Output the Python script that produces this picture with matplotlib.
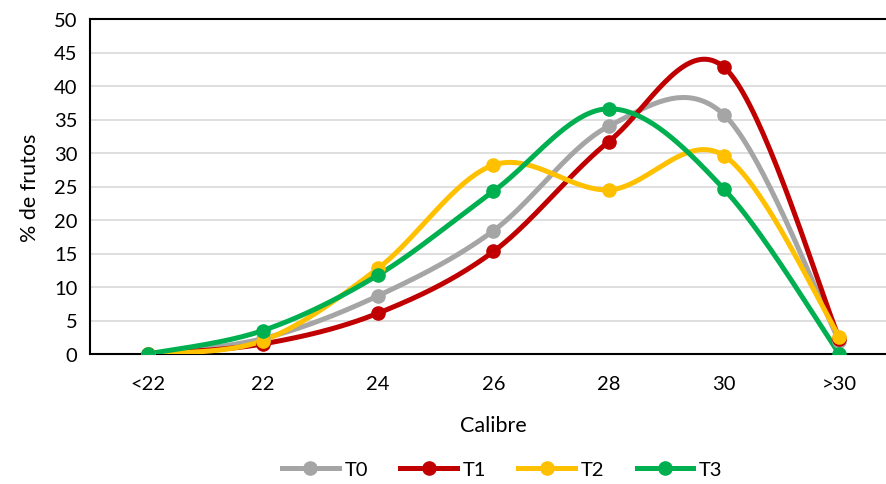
import numpy as np
import matplotlib.pyplot as plt

# --- data ---
calibres = ['<22', '22', '24', '26', '28', '30', '>30']
t0 = [0, 2.3, 8.7, 18.4, 34.0, 35.7, 1.9]
t1 = [0, 1.5, 6.1, 15.3, 31.7, 42.8, 2.3]
t2 = [0, 2.0, 12.8, 28.2, 24.5, 29.6, 2.6]
t3 = [0, 3.5, 11.8, 24.3, 36.6, 24.6, 0]

series = [('T0', t0, '#A5A5A5'),
          ('T1', t1, '#C00000'),
          ('T2', t2, '#FFC000'),
          ('T3', t3, '#00B050')]


def smooth(x, y, n=40):
    """Excel-like smoothed line (Catmull-Rom via Bezier segments)."""
    x = np.asarray(x, float)
    y = np.asarray(y, float)
    px = np.concatenate([[x[0]], x, [x[-1]]])
    py = np.concatenate([[y[0]], y, [y[-1]]])
    xs, ys = [], []
    t = np.linspace(0, 1, n)
    for i in range(1, len(px) - 2):
        p0 = np.array([px[i], py[i]])
        p3 = np.array([px[i + 1], py[i + 1]])
        c1 = p0 + (np.array([px[i + 1], py[i + 1]]) - np.array([px[i - 1], py[i - 1]])) / 6
        c2 = p3 - (np.array([px[i + 2], py[i + 2]]) - np.array([px[i], py[i]])) / 6
        b = ((1 - t) ** 3)[:, None] * p0 + (3 * (1 - t) ** 2 * t)[:, None] * c1 \
            + (3 * (1 - t) * t ** 2)[:, None] * c2 + (t ** 3)[:, None] * p3
        xs.append(b[:, 0])
        ys.append(b[:, 1])
    return np.concatenate(xs), np.concatenate(ys)


plt.rcParams['font.family'] = ['Lato', 'DejaVu Sans']

fig = plt.figure(figsize=(8.86, 4.85), dpi=100)
ax = fig.add_axes([90 / 886, 1 - 355 / 485, 807 / 886, 335 / 485])

xpos = np.arange(len(calibres))
for name, vals, col in series:
    sx, sy = smooth(xpos, vals)
    ax.plot(sx, sy, color=col, lw=3.6, solid_capstyle='round', zorder=3)
    ax.plot(xpos, vals, 'o', color=col, ms=9.5, zorder=4)
    ax.plot([], [], color=col, lw=3.6, marker='o', ms=9.5, label=name)

ax.set_xlim(-0.5, 6.5)
ax.set_ylim(0, 50)
ax.set_yticks(range(0, 51, 5))
ax.set_xticks(xpos)
ax.set_xticklabels(calibres)
ax.tick_params(axis='both', length=0, labelsize=14.5)
ax.tick_params(axis='x', pad=15)
ax.tick_params(axis='y', pad=9)
ax.grid(axis='y', color='#D9D9D9', lw=1.2)
ax.set_axisbelow(True)
for s in ax.spines.values():
    s.set_color('black')
    s.set_linewidth(1.5)
ax.spines['right'].set_visible(False)

ax.set_xlabel('Calibre', fontsize=15.5, labelpad=17)
ax.set_ylabel('% de frutos', fontsize=15.5, labelpad=10)

fig.legend(loc='lower center', ncol=4, frameon=False, fontsize=14.5,
           bbox_to_anchor=(0.567, -0.025), handlelength=2.8, columnspacing=1.6,
           handletextpad=0.3)

fig.savefig('out.png', dpi=100)
